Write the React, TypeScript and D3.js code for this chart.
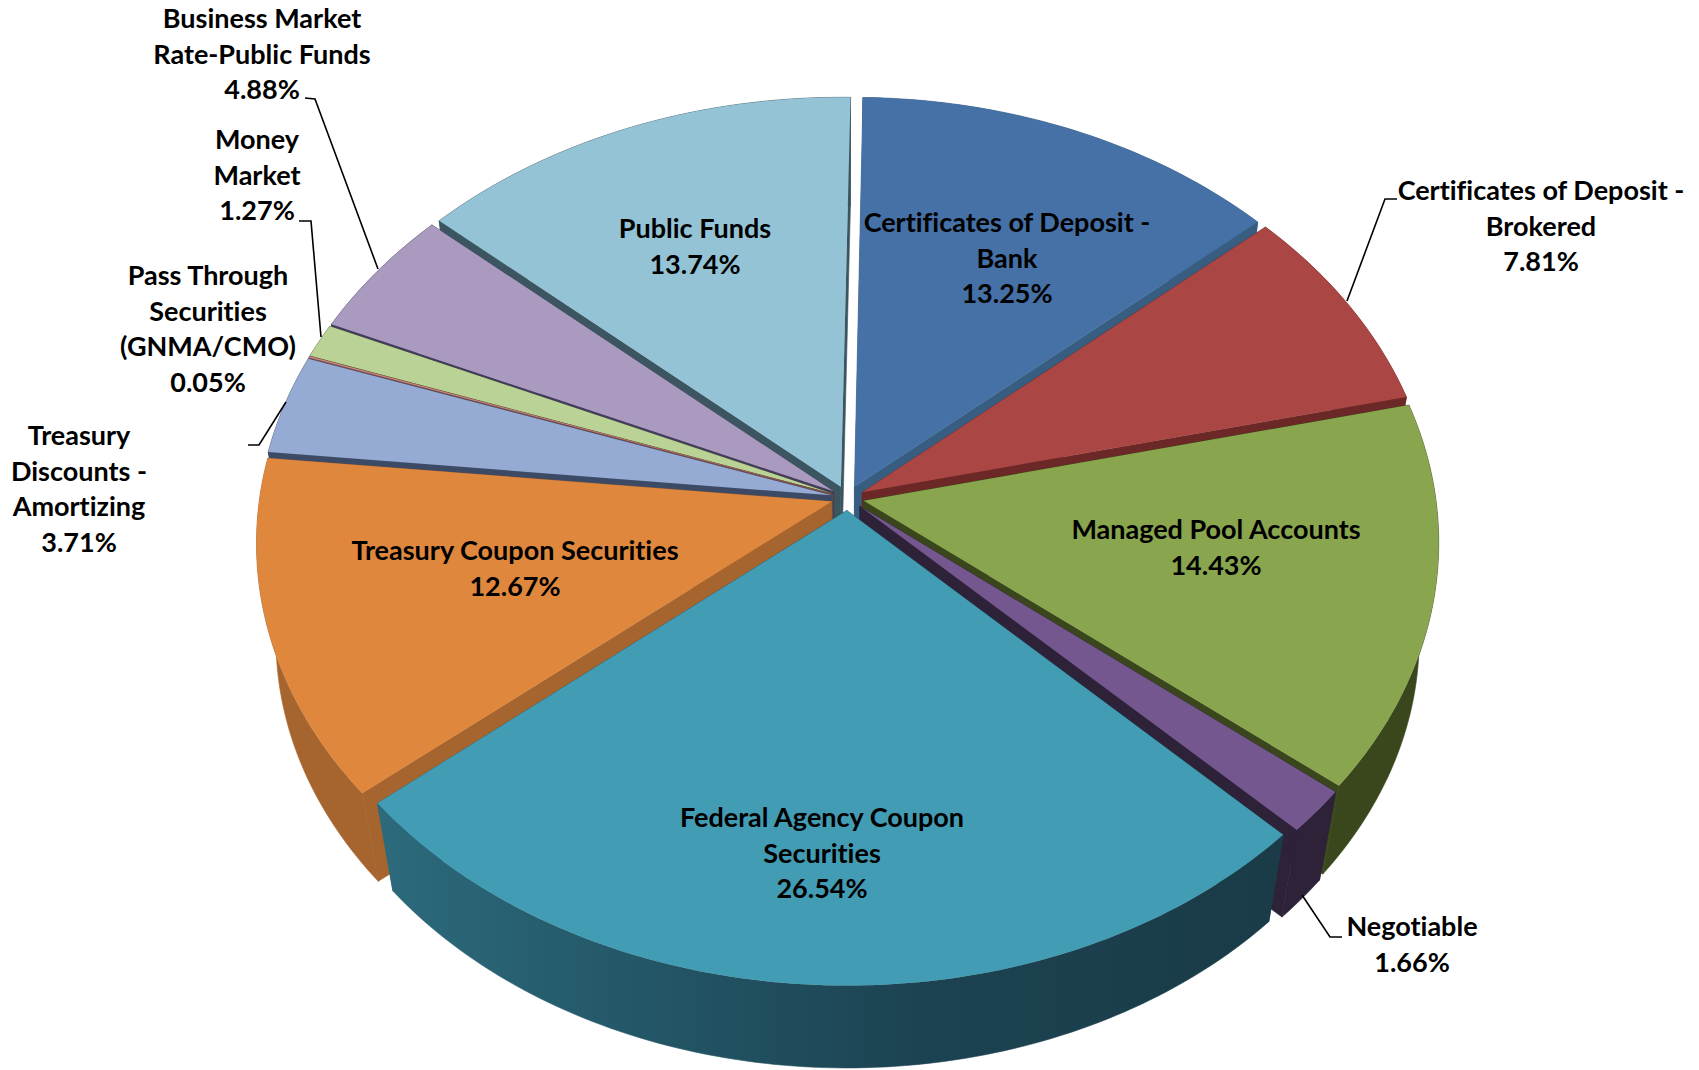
import React from "react";
import * as d3 from "d3";

const categories = [
  "Certificates of Deposit - Bank",
  "Certificates of Deposit - Brokered",
  "Managed Pool Accounts",
  "Negotiable",
  "Federal Agency Coupon Securities",
  "Treasury Coupon Securities",
  "Treasury Discounts - Amortizing",
  "Pass Through Securities (GNMA/CMO)",
  "Money Market",
  "Business Market Rate-Public Funds",
  "Public Funds",
];
const values = [13.25, 7.81, 14.43, 1.66, 26.54, 12.67, 3.71, 0.05, 1.27, 4.88, 13.74];
const topColors = ["#4571A7", "#AA4643", "#89A54E", "#75578F", "#429CB4", "#E0873E", "#95ABD3", "#C98A80", "#BBD296", "#AA9ABF", "#94C3D6"];
const wallColors = ["#375E80", "#6B2826", "#3A461C", "#2E2238", "url(#fedWall)", "#A6652E", "#3C4A66", "#7A4A48", "#4A5A34", "#443C5C", "#3B5660"];
const labelLines = [
  ["Certificates of Deposit -", "Bank", "13.25%"],
  ["Certificates of Deposit -", "Brokered", "7.81%"],
  ["Managed Pool Accounts", "14.43%"],
  ["Negotiable", "1.66%"],
  ["Federal Agency Coupon", "Securities", "26.54%"],
  ["Treasury Coupon Securities", "12.67%"],
  ["Treasury", "Discounts -", "Amortizing", "3.71%"],
  ["Pass Through", "Securities", "(GNMA/CMO)", "0.05%"],
  ["Money", "Market", "1.27%"],
  ["Business Market", "Rate-Public Funds", "4.88%"],
  ["Public Funds", "13.74%"],
];
const labelAnchors: [number, number][] = [
  [1007, 221], [1541, 189], [1216, 528], [1412, 925], [822, 816], [515, 549],
  [79, 434], [208, 274], [257, 138], [262, 17], [695, 227],
];
const leaders: [number, number][][] = [
  [[1397, 199], [1385, 199], [1347, 301]],
  [[1342, 937], [1330, 937], [1302, 895]],
  [[248, 445], [259, 445], [286, 402]],
  [[299, 221], [311, 221], [321, 337]],
  [[305, 98], [315, 99], [378, 269]],
];

const cx = 847.5, cy = 498, RX = 572, RY = 428, persp = 0.094, explode = 0.029;
const rotation = (1 * Math.PI) / 180;
const lineH = 35.5;

type Pt = [number, number];

function App() {
  const arcs = d3.pie<number>().sort(null).startAngle(rotation).endAngle(rotation + 2 * Math.PI)(values);
  const path = d3.line<Pt>();

  const slices = arcs.map((arc, i) => {
    const mid = (arc.startAngle + arc.endAngle) / 2;
    const top = (a: number, r: number): Pt => {
      const u = r * Math.sin(a) + explode * Math.sin(mid);
      const v = r * Math.cos(a) + explode * Math.cos(mid);
      const w = 1 / (1 + persp * v);
      return [cx + RX * u * w, cy - RY * v * w];
    };
    const bottom = ([x, y]: Pt): Pt => [cx + (x - cx) * 0.967, cy + (y - cy) * 0.97 + 97];
    const n = Math.max(2, Math.ceil((arc.endAngle - arc.startAngle) * 60));
    const outer = d3.range(n + 1).map((k) => top(arc.startAngle + ((arc.endAngle - arc.startAngle) * k) / n, 1));
    const apex = top(0, 0);
    const faceD = path([apex, ...outer])! + "Z";
    const outerD = path([...outer, ...outer.map(bottom).reverse()])! + "Z";
    const wallA = path([apex, outer[0], bottom(outer[0]), bottom(apex)])! + "Z";
    const wallB = path([apex, outer[n], bottom(outer[n]), bottom(apex)])! + "Z";
    return { i, depth: Math.cos(mid), faceD, outerD, wallA, wallB };
  });
  const drawOrder = [...slices].sort((a, b) => b.depth - a.depth);

  return (
    <svg width={1699} height={1070} style={{ position: "absolute", left: 0, top: 0, background: "#fff" }}>
      <defs>
        <linearGradient id="fedWall" gradientUnits="userSpaceOnUse" x1={380} x2={1280} y1={0} y2={0}>
          <stop offset="0" stopColor="#2C6A7C" />
          <stop offset="0.3" stopColor="#235666" />
          <stop offset="0.6" stopColor="#1C4352" />
          <stop offset="1" stopColor="#1A3B47" />
        </linearGradient>
      </defs>
      {drawOrder.map((s) => (
        <g key={categories[s.i]}>
          <path d={s.wallA} fill={wallColors[s.i]} stroke={wallColors[s.i]} strokeWidth={0.6} />
          <path d={s.wallB} fill={wallColors[s.i]} stroke={wallColors[s.i]} strokeWidth={0.6} />
          <path d={s.outerD} fill={wallColors[s.i]} stroke={wallColors[s.i]} strokeWidth={0.6} />
          <path d={s.faceD} fill={topColors[s.i]} />
        </g>
      ))}
      {leaders.map((pts, i) => (
        <path key={i} d={path(pts)!} fill="none" stroke="#000" strokeWidth={1.6} />
      ))}
      <g
        fontFamily="Lato, 'Open Sans', sans-serif"
        fontWeight={700}
        fontSize={27}
        fill="#000"
        textAnchor="middle"
        style={{ fontVariantLigatures: "none" }}
      >
        {labelLines.map((lines, i) => (
          <text key={categories[i]} dominantBaseline="central">
            {lines.map((line, j) => (
              <tspan key={j} x={labelAnchors[i][0]} y={labelAnchors[i][1] + j * lineH}>
                {line}
              </tspan>
            ))}
          </text>
        ))}
      </g>
    </svg>
  );
}

export default App;
